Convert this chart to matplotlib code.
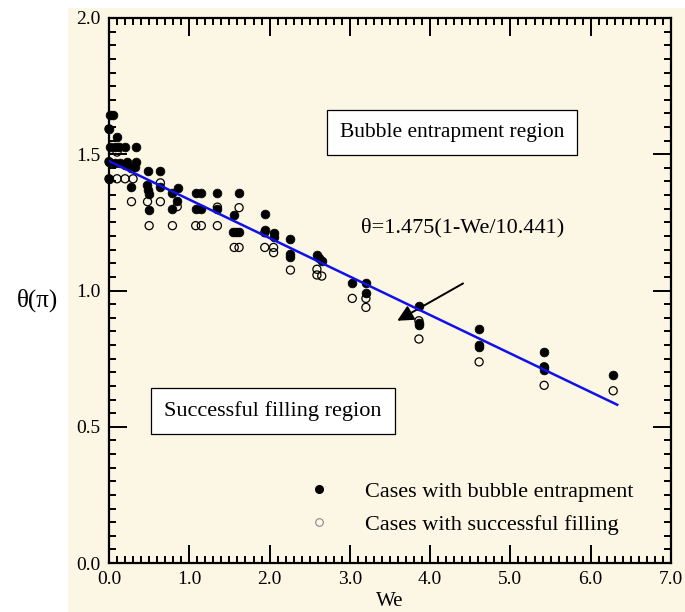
import matplotlib
matplotlib.use('Agg')
import matplotlib.pyplot as plt
import numpy as np
from matplotlib.patches import Rectangle
from matplotlib.lines import Line2D
from matplotlib.ticker import MultipleLocator, FormatStrFormatter

plt.rcParams['font.family'] = ['Liberation Serif', 'DejaVu Serif']

# ---- data ----
bubble_we = [0.01, 0.05, 0.0, 0.10,
             0.01, 0.07, 0.12, 0.20, 0.34,
             0.0, 0.07, 0.14, 0.20, 0.22, 0.34, 0.32,
             0.28, 0.48, 0.64,
             0.0,
             0.27, 0.47, 0.49, 0.50, 0.64, 0.79, 0.86,
             0.50, 0.78, 0.85,
             1.08, 1.15, 1.35, 1.62,
             1.08, 1.15, 1.35,
             1.56, 1.54, 1.58, 1.62,
             1.94, 1.94, 2.05, 2.05,
             2.26, 2.26, 2.26,
             2.59, 2.61, 2.65,
             3.03, 3.20, 3.20,
             3.86, 3.86, 3.86,
             4.61, 4.61, 4.61,
             5.42, 5.42, 5.42,
             6.28]
bubble_theta = [1.644, 1.644, 1.593, 1.563,
                1.528, 1.528, 1.528, 1.528, 1.528,
                1.473, 1.467, 1.467, 1.462, 1.473, 1.473, 1.455,
                1.45, 1.44, 1.44,
                1.41,
                1.38, 1.387, 1.37, 1.354, 1.38, 1.357, 1.375,
                1.295, 1.30, 1.33,
                1.358, 1.358, 1.358, 1.358,
                1.30, 1.30, 1.30,
                1.277, 1.216, 1.216, 1.216,
                1.279, 1.222, 1.212, 1.196,
                1.19, 1.133, 1.122,
                1.13, 1.118, 1.108,
                1.029, 1.029, 0.99,
                0.943, 0.882, 0.873,
                0.858, 0.80, 0.792,
                0.776, 0.72, 0.708,
                0.69]

fill_we = [0.0, 0.10, 0.0,
           0.0, 0.10, 0.20, 0.30,
           0.64,
           0.28, 0.48, 0.64,
           0.85,
           0.50, 0.79, 1.08, 1.15, 1.35,
           1.35, 1.62,
           1.56, 1.62,
           1.94, 1.94,
           2.05, 2.05,
           2.26,
           2.59, 2.59, 2.65,
           3.03, 3.20, 3.20,
           3.86, 3.86,
           4.61,
           5.42, 5.42,
           6.28]
fill_theta = [1.593, 1.508, 1.473,
              1.41, 1.41, 1.41, 1.41,
              1.395,
              1.326, 1.326, 1.326,
              1.308,
              1.238, 1.238, 1.238, 1.238, 1.238,
              1.306, 1.304,
              1.158, 1.158,
              1.212, 1.158,
              1.158, 1.139,
              1.075,
              1.078, 1.057, 1.053,
              0.971, 0.971, 0.938,
              0.889, 0.822,
              0.738,
              0.72, 0.652,
              0.632]

fit_a = 1.475
fit_b = 10.441
fit_we = [0.0, 6.33]

x_ticks = [0, 1, 2, 3, 4, 5, 6, 7]
y_ticks = [0.0, 0.5, 1.0, 1.5, 2.0]

cream = '#FCF6E4'

fig = plt.figure(figsize=(6.85, 6.12), dpi=100)
fig.patch.set_facecolor('white')
bg = Rectangle((68/685, 0), 1 - 68/685, 1 - 8/612,
               transform=fig.transFigure, facecolor=cream,
               edgecolor='none', zorder=-10)
fig.add_artist(bg)

ax = fig.add_axes([109/685, 1 - 563/612, 562/685, 545/612])
ax.set_zorder(5)
ax.set_facecolor(cream)

ax.scatter(fill_we, fill_theta, s=34, facecolors='none', edgecolors='black',
           linewidths=0.9, zorder=3, clip_on=False)
ax.scatter(bubble_we, bubble_theta, s=40, facecolors='black', edgecolors='black',
           linewidths=0.5, zorder=4, clip_on=False)

xw = np.array(fit_we)
ax.plot(xw, fit_a * (1 - xw / fit_b), color='#1010E8', lw=1.8, zorder=5)

ax.set_xlim(0, 7)
ax.set_ylim(0, 2)
ax.set_xticks(x_ticks)
ax.set_yticks(y_ticks)
ax.xaxis.set_major_formatter(FormatStrFormatter('%.1f'))
ax.yaxis.set_major_formatter(FormatStrFormatter('%.1f'))
ax.xaxis.set_minor_locator(MultipleLocator(0.1))
ax.yaxis.set_minor_locator(MultipleLocator(0.05))
ax.tick_params(which='both', direction='in', top=True, right=True, width=1.4,
               labelsize=14)
ax.tick_params(which='major', length=13, pad=6)
ax.tick_params(which='minor', length=5)
for s in ax.spines.values():
    s.set_linewidth(1.6)

ax.set_xlabel('We', fontsize=15, labelpad=3)
fig.text(38/685, 1 - 300/612, 'θ(π)', fontsize=18, ha='center', va='center')

ax.text(4.27, 1.58, 'Bubble entrapment region', fontsize=15.5, ha='center', va='center',
        bbox=dict(boxstyle='square,pad=0.6', facecolor='white', edgecolor='black', lw=0.9))
ax.text(2.04, 0.558, 'Successful filling region', fontsize=16, ha='center', va='center',
        bbox=dict(boxstyle='square,pad=0.6', facecolor='white', edgecolor='black', lw=0.9))
ax.text(4.41, 1.229, 'θ=1.475(1-We/10.441)', fontsize=16, ha='center', va='center')
ax.annotate('', xy=(3.56, 0.884), xytext=(4.44, 1.031),
            arrowprops=dict(arrowstyle='-|>', color='black', lw=1.4, mutation_scale=24))

handles = [Line2D([], [], marker='o', ls='none', color='black', markersize=5.5),
           Line2D([], [], marker='o', ls='none', markerfacecolor='none',
                  markeredgecolor='#888888', markersize=5.5, markeredgewidth=0.8)]
ax.legend(handles, ['Cases with bubble entrapment', 'Cases with successful filling'],
          loc='upper left', bbox_to_anchor=(0.318, 0.166), frameon=False,
          fontsize=16, handletextpad=1.1, labelspacing=0.55, borderaxespad=0)

fig.savefig('out.png', dpi=100, facecolor='white')
